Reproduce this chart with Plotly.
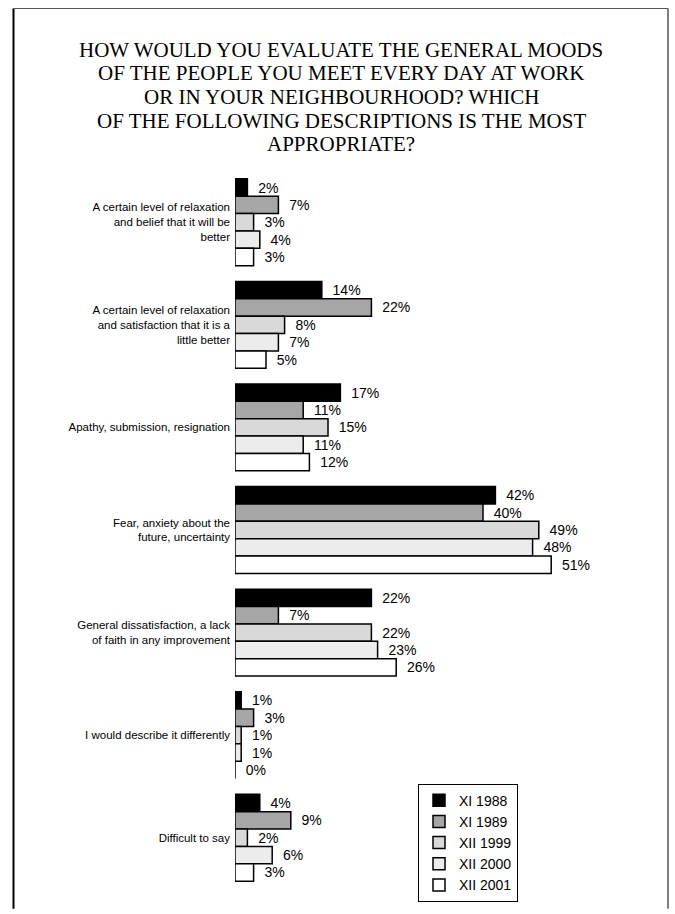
import plotly.graph_objects as go

# Survey answers (percent of respondents) by wave
categories = [
    "A certain level of relaxation<br>and belief that it will be<br>better",
    "A certain level of relaxation<br>and satisfaction that it is a<br>little better",
    "Apathy, submission, resignation",
    "Fear, anxiety about the<br>future, uncertainty",
    "General dissatisfaction, a lack<br>of faith in any improvement",
    "I would describe it differently",
    "Difficult to say",
]
series_names = ["XI 1988", "XI 1989", "XII 1999", "XII 2000", "XII 2001"]
xi_1988 = [2, 14, 17, 42, 22, 1, 4]
xi_1989 = [7, 22, 11, 40, 7, 3, 9]
xii_1999 = [3, 8, 15, 49, 22, 1, 2]
xii_2000 = [4, 7, 11, 48, 23, 1, 6]
xii_2001 = [3, 5, 12, 51, 26, 0, 3]
series_values = [xi_1988, xi_1989, xii_1999, xii_2000, xii_2001]
fill_colors = ["#000000", "#a6a6a6", "#d9d9d9", "#ececec", "#ffffff"]

title_lines = [
    "HOW WOULD YOU EVALUATE THE GENERAL MOODS",
    "OF THE PEOPLE YOU MEET EVERY DAY AT WORK",
    "OR IN YOUR NEIGHBOURHOOD? WHICH",
    "OF THE FOLLOWING DESCRIPTIONS IS THE MOST",
    "APPROPRIATE?",
]

W, H = 675, 914
ML, MR, MT, MB = 235, 37, 171, 14
PW, PH = W - ML - MR, H - MT - MB

SANS = "Liberation Sans, Arial, sans-serif"
SERIF = "Liberation Serif, Times New Roman, serif"


def px_x(px):
    return (px - ML) / PW


def px_y(py):
    return (H - MB - py) / PH


fig = go.Figure()
for name, vals, col in zip(series_names, series_values, fill_colors):
    fig.add_trace(go.Bar(
        name=name,
        y=categories,
        x=vals,
        orientation="h",
        marker=dict(color=col, line=dict(color="#000000", width=1.5)),
        text=vals,
        texttemplate="\u00a0\u00a0%{x}%",
        textposition="outside",
        textfont=dict(family=SANS, size=14, color="#000000"),
        constraintext="none",
        cliponaxis=False,
    ))

# Title, one annotation per line for tight leading
title_y = [48, 72, 96, 120, 144]
annotations = []
for line, yy in zip(title_lines, title_y):
    annotations.append(dict(
        text=line, xref="paper", yref="paper",
        x=px_x(341), y=px_y(yy), xanchor="center", yanchor="middle",
        showarrow=False, font=dict(family=SERIF, size=21, color="#000000"),
    ))

# Page frame
shapes = [
    dict(type="line", xref="paper", yref="paper",
         x0=px_x(13.5), x1=px_x(13.5), y0=px_y(6), y1=px_y(920),
         line=dict(color="#000000", width=2)),
    dict(type="line", xref="paper", yref="paper",
         x0=px_x(13.5), x1=px_x(668), y0=px_y(6), y1=px_y(6),
         line=dict(color="#555555", width=1.2)),
    dict(type="line", xref="paper", yref="paper",
         x0=px_x(668), x1=px_x(668), y0=px_y(6), y1=px_y(920),
         line=dict(color="#555555", width=1.5)),
]

fig.update_layout(
    width=W, height=H,
    margin=dict(l=ML, r=MR, t=MT, b=MB, pad=0),
    paper_bgcolor="#ffffff", plot_bgcolor="#ffffff",
    barmode="group", bargap=0.153, bargroupgap=0,
    showlegend=True,
    legend=dict(
        x=px_x(418), y=px_y(793), xanchor="left", yanchor="top",
        bgcolor="#ffffff", bordercolor="#000000", borderwidth=1,
        font=dict(family=SANS, size=14, color="#000000"),
        traceorder="normal", itemwidth=30,
    ),
    xaxis=dict(range=[0, 65], visible=False, fixedrange=True),
    yaxis=dict(
        autorange="reversed", showline=False, showgrid=False, zeroline=False,
        ticks="", ticklabelstandoff=4,
        tickfont=dict(family=SANS, size=11.5, color="#000000"),
    ),
    annotations=annotations,
    shapes=shapes,
)

fig.write_html("out.html")
